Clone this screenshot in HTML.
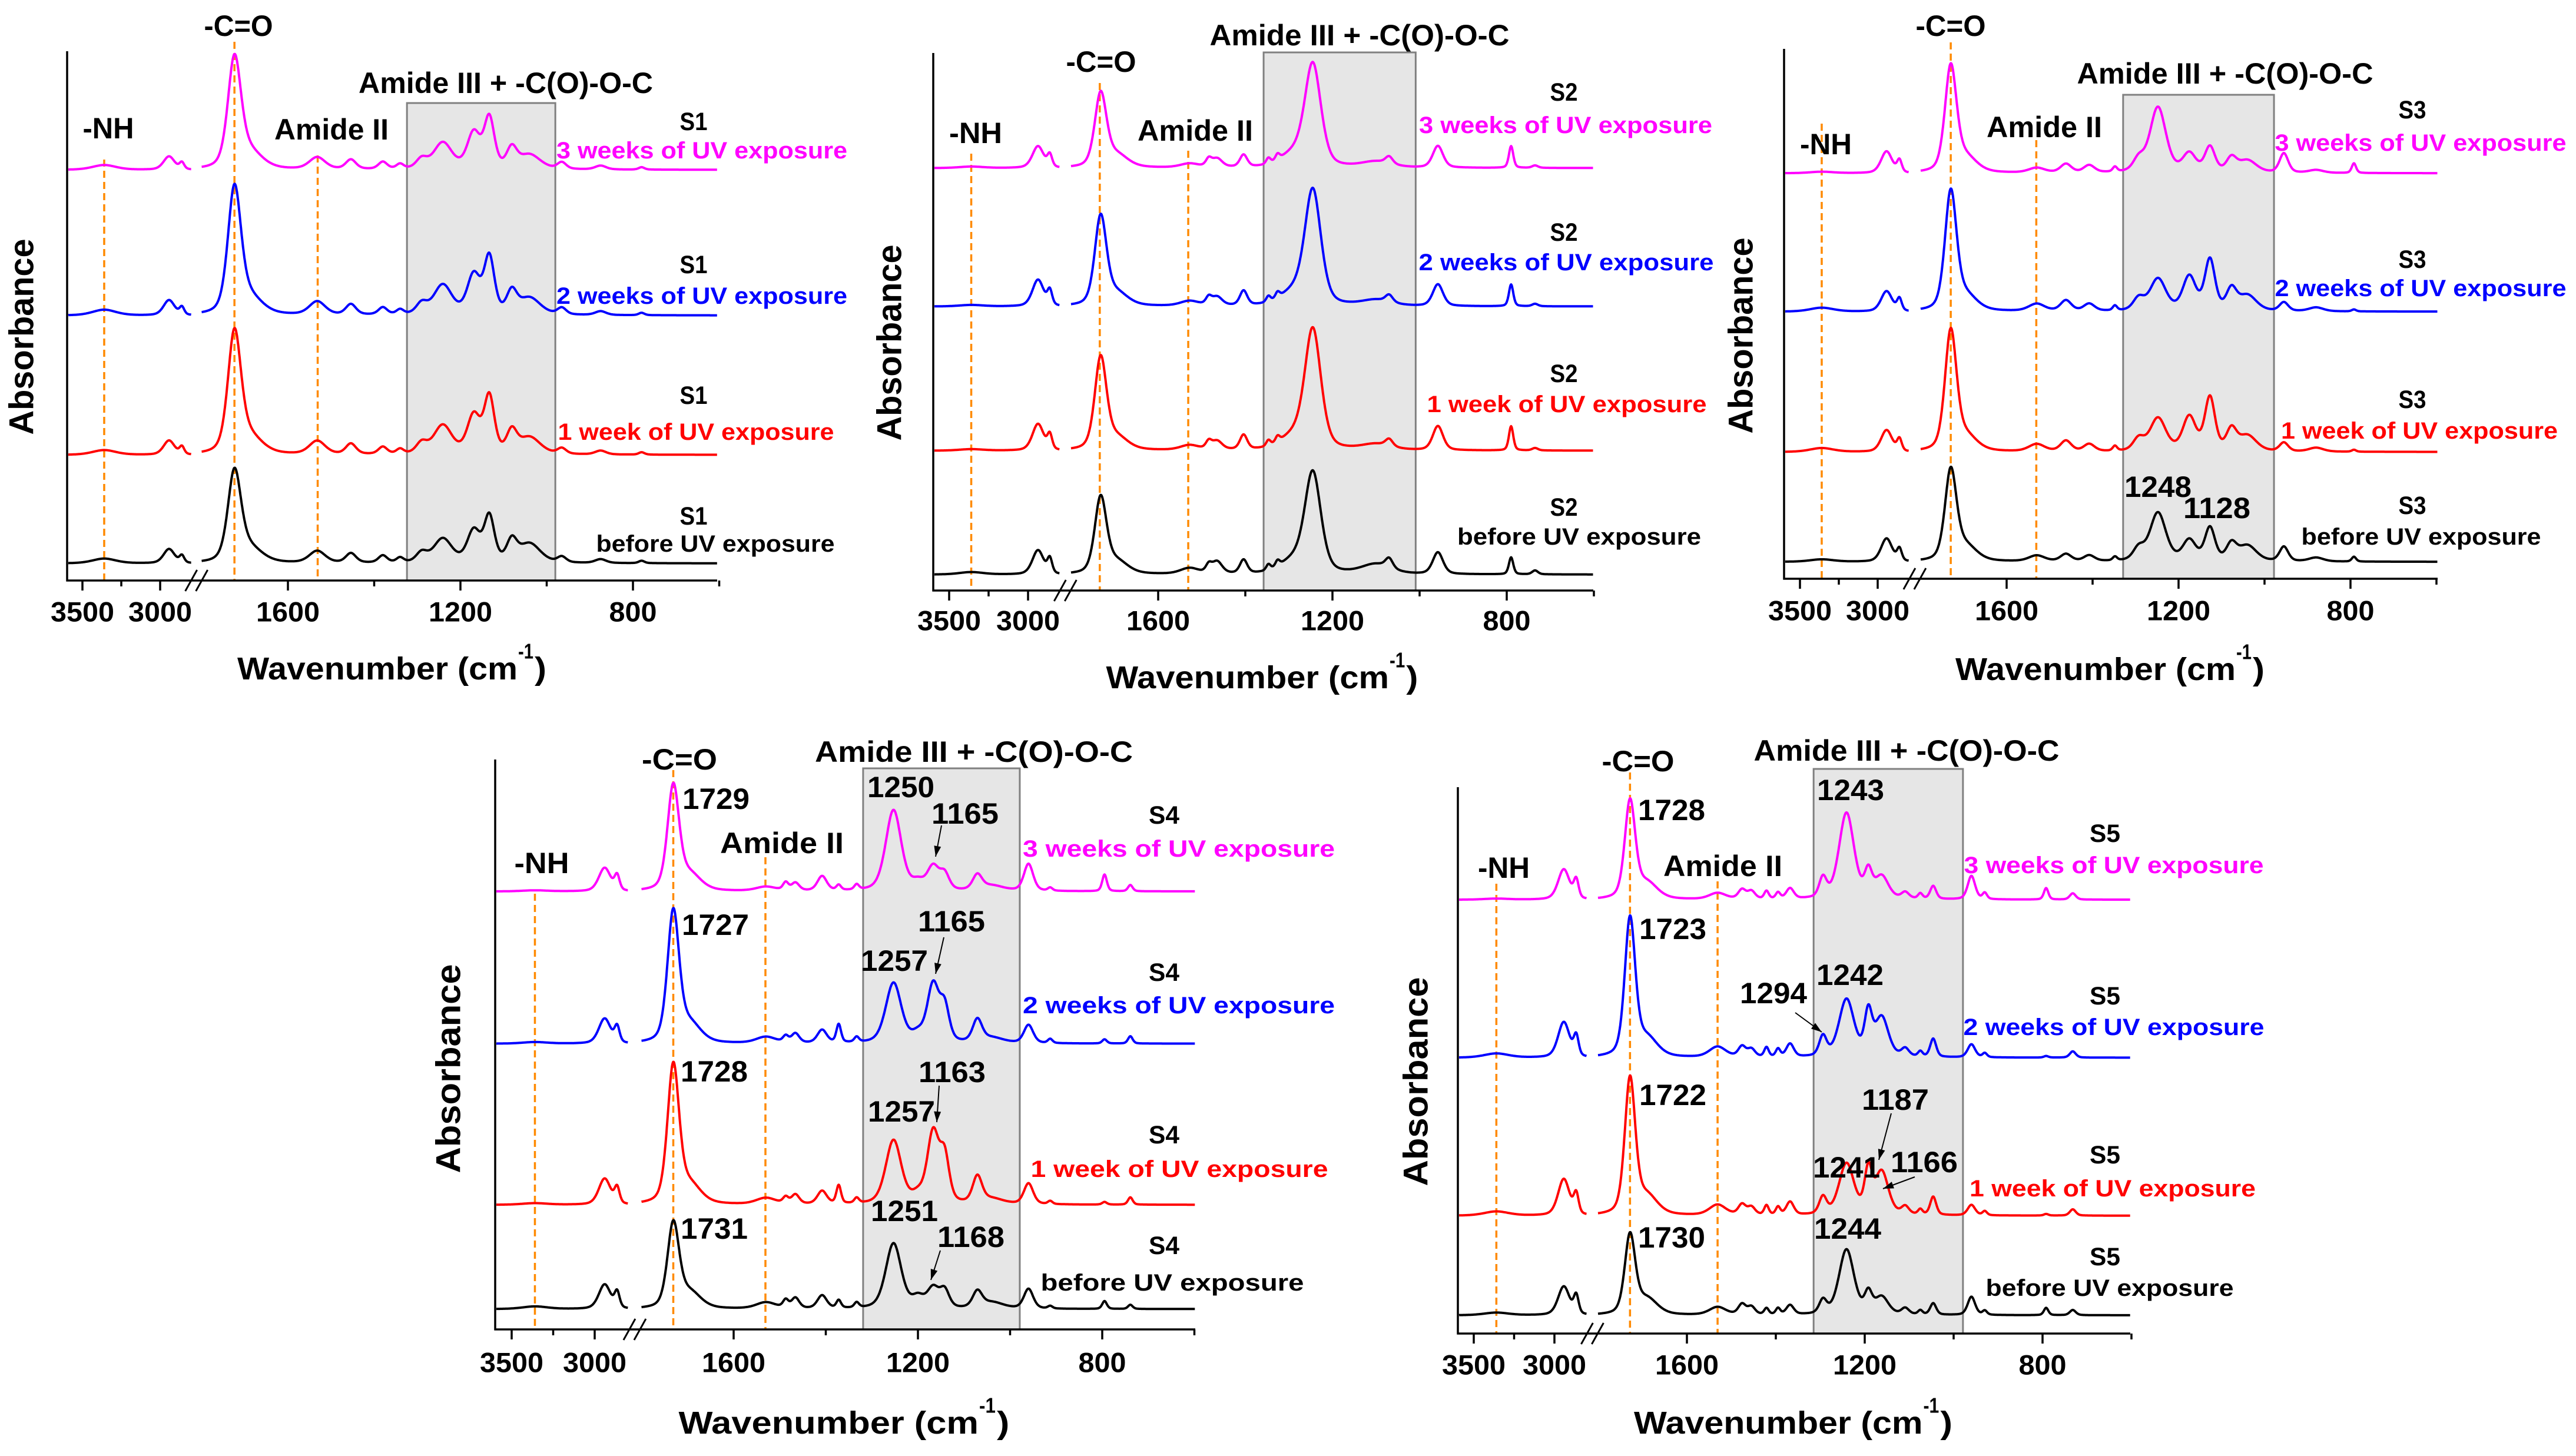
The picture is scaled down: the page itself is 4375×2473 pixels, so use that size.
<!DOCTYPE html>
<html><head><meta charset="utf-8"><style>
html,body{margin:0;padding:0;background:#fff;}
svg{display:block;}
text{font-family:"Liberation Sans",Arial,sans-serif;font-weight:bold;}
</style></head>
<body>
<svg id="chart" xmlns="http://www.w3.org/2000/svg" width="4375" height="2473" viewBox="0 0 4375 2473"></svg>
<script>
// ---------- data ----------
const tickMajor = [3500, 3000, 1600, 1200, 800];
const tickMinor = [3250, 1400, 1000, 600];
const traceNames = ['3 weeks of UV exposure', '2 weeks of UV exposure', '1 week of UV exposure', 'before UV exposure'];
const traceColors = ['#ff00ff', '#0000ff', '#ff0000', '#000000'];

// S1
const p1Centers = [3360, 2943, 2860, 1724, 1690, 1532, 1454, 1380, 1340, 1290, 1241, 1169, 1133, 1081, 1040, 965, 875, 780];
const p1Widths  = [90, 42, 18, 18, 35, 22, 14, 12, 10, 15, 25, 18, 14, 14, 30, 12, 15, 8];
const p1Mag   = [10, 28, 14, 225, 35, 25, 20, 15, 10, 20, 55, 75, 105, 40, 30, 14, 8, 5];
const p1Blue  = [12, 32, 16, 258, 35, 28, 22, 15, 10, 22, 62, 82, 118, 44, 35, 14, 8, 5];
const p1Red   = [10, 30, 16, 248, 35, 28, 22, 15, 10, 22, 60, 80, 118, 44, 35, 12, 8, 5];
const p1Black = [10, 30, 15, 185, 30, 25, 20, 15, 10, 20, 50, 66, 95, 42, 40, 12, 8, 5];
const p1Offsets = [863, 557, 264, 36];

// S2
const p2Centers = [3360, 2937, 2862, 1732, 1695, 1528, 1484, 1465, 1404, 1347, 1326, 1290, 1245, 1100, 1070, 958, 790, 735];
const p2Widths  = [90, 42, 18, 16, 30, 25, 8, 14, 10, 6, 6, 35, 22, 40, 10, 14, 6, 8];
const p2Mag   = [3, 45, 25, 150, 25, 8, 15, 18, 25, 12, 12, 25, 210, 12, 15, 45, 45, 5];
const p2Blue  = [3, 55, 30, 182, 25, 10, 15, 18, 30, 12, 12, 25, 236, 12, 15, 45, 45, 5];
const p2Red   = [3, 55, 30, 188, 25, 10, 15, 18, 30, 12, 12, 25, 246, 12, 15, 50, 50, 5];
const p2Black = [5, 50, 30, 155, 25, 12, 15, 25, 28, 12, 12, 25, 206, 20, 20, 45, 35, 8];
const p2Offsets = [873, 587, 289, 33];

// S3
const p3Centers = [3360, 2943, 2860, 1730, 1695, 1530, 1462, 1408, 1348, 1293, 1248, 1175, 1127, 1077, 1040, 955, 880, 792];
const p3Widths  = [90, 42, 18, 16, 30, 22, 15, 15, 6, 15, 22, 18, 14, 14, 25, 12, 20, 6];
const p3Mag   = [3, 45, 25, 215, 30, 10, 18, 15, 10, 25, 135, 38, 52, 28, 25, 40, 6, 20];
const p3Blue  = [8, 42, 25, 242, 30, 15, 22, 15, 10, 25, 66, 70, 105, 42, 32, 18, 8, 4];
const p3Red   = [8, 45, 25, 244, 30, 15, 22, 15, 10, 25, 68, 70, 110, 42, 32, 18, 8, 4];
const p3Black = [5, 48, 25, 184, 30, 12, 15, 12, 8, 25, 100, 42, 68, 33, 32, 30, 8, 10];
const p3Offsets = [838, 552, 262, 35];

// S4
const p4Centers = [3360, 2940, 2865, 1731, 1695, 1530, 1487, 1466, 1408, 1372, 1333, 1253, 1200, 1167, 1142, 1071, 1040, 960, 913, 795, 739];
const p4Widths  = [90, 42, 18, 15, 28, 25, 7, 10, 12, 6, 6, 20, 15, 15, 12, 12, 30, 12, 6, 6, 6];
const p4Mag   = [2, 45, 28, 198, 30, 8, 15, 15, 28, 10, 10, 155, 15, 45, 30, 28, 10, 52, 6, 32, 12];
const p4Blue  = [3, 48, 30, 248, 35, 12, 12, 18, 25, 35, 10, 115, 15, 110, 65, 42, 10, 35, 8, 8, 14];
const p4Red   = [3, 50, 30, 262, 35, 12, 12, 18, 25, 35, 10, 122, 15, 135, 85, 50, 10, 40, 6, 5, 14];
const p4Black = [5, 47, 30, 160, 30, 12, 15, 20, 25, 15, 10, 125, 20, 38, 33, 30, 12, 38, 5, 15, 8];
const p4Offsets = [840, 548, 239, 39];

// S5
const p5Centers = [3360, 2942, 2865, 1728, 1690, 1531, 1476, 1455, 1421, 1395, 1368, 1294, 1241, 1192, 1162, 1109, 1075, 1046, 960, 930, 792, 732];
const p5Widths  = [90, 42, 18, 14, 28, 22, 10, 10, 6, 6, 10, 10, 20, 10, 18, 10, 6, 8, 10, 6, 6, 8];
const p5Mag   = [2, 58, 35, 185, 30, 12, 18, 15, 15, 12, 20, 38, 165, 48, 42, 12, 10, 25, 45, 12, 22, 12];
const p5Blue  = [8, 68, 38, 262, 35, 20, 20, 15, 18, 15, 25, 38, 110, 80, 75, 15, 10, 35, 25, 8, 3, 12];
const p5Red   = [8, 70, 38, 258, 35, 20, 20, 15, 18, 15, 25, 33, 98, 80, 82, 15, 10, 35, 20, 8, 3, 12];
const p5Black = [5, 55, 35, 150, 30, 15, 20, 15, 12, 12, 18, 26, 125, 38, 33, 12, 8, 22, 35, 8, 14, 10];
const p5Offsets = [832, 529, 226, 35];

// reference-line positions (wavenumbers)
const nhWave = 3360;
const amide2Wave = 1531;
const coWaves = [1724, 1734, 1730, 1731, 1728];
const boxWaves = [[1324, 980], [1358, 1009], [1329, 978], [1319, 979], [1315, 979]];

// ---------- layout ----------
const panels = [
 {n:1, left:114, top:87, bottom:986, right:1218, x3500:140, x3000:272, x1600:489, x1200:782, k:0.8083,
  centers:p1Centers, widths:p1Widths, heights:[p1Mag,p1Blue,p1Red,p1Black], offsets:p1Offsets,
  boxTop:175, dashTop:[271,71,264], tickY:1039, titleX:666, titleY:1136, titleW:526, absX:37, absY:572, absL:333,
  coT:[405,44,117], am3T:[859,141,500], am2T:[563,220,194], nhT:[184,218,87],
  sX:1178, sY:[207,450,672,877], eX:[1192,1192,1182,1215], eY:[256,503,734,924], eW:[494,494,469,405], ann:[], arrows:[]},
 {n:2, left:1585, top:90, bottom:1003, right:2706, x3500:1612, x3000:1746, x1600:1967, x1200:2263, k:0.8219,
  centers:p2Centers, widths:p2Widths, heights:[p2Mag,p2Blue,p2Red,p2Black], offsets:p2Offsets,
  boxTop:89, dashTop:[261,141,256], tickY:1054, titleX:2144, titleY:1151, titleW:531, absX:1511, absY:582, absL:333,
  coT:[1870,105,119], am3T:[2309,60,509], am2T:[2030,222,196], nhT:[1657,226,90],
  sX:2656, sY:[157,395,635,862], eX:[2659,2660,2661,2682], eY:[213,446,687,912], eW:[498,501,475,414], ann:[], arrows:[]},
 {n:3, left:3030, top:83, bottom:983, right:4140, x3500:3057, x3000:3189, x1600:3408, x1200:3700, k:0.8219,
  centers:p3Centers, widths:p3Widths, heights:[p3Mag,p3Blue,p3Red,p3Black], offsets:p3Offsets,
  boxTop:161, dashTop:[210,72,238], tickY:1037, titleX:3584, titleY:1137, titleW:526, absX:2957, absY:570, absL:333,
  coT:[3313,44,119], am3T:[3779,125,503], am2T:[3472,216,196], nhT:[3101,245,88],
  sX:4097, sY:[187,441,679,859], eX:[4111,4111,4109,4112], eY:[243,490,732,912], eW:[495,495,470,407],
  ann:[['1248',3665,827],['1128',3765,863]], arrows:[]},
 {n:4, left:841, top:1290, bottom:2258, right:2030, x3500:869, x3000:1010, x1600:1246, x1200:1559, k:0.8856,
  centers:p4Centers, widths:p4Widths, heights:[p4Mag,p4Blue,p4Red,p4Black], offsets:p4Offsets,
  boxTop:1305, dashTop:[1518,1308,1456], tickY:2314, titleX:1434, titleY:2417, titleW:563, absX:762, absY:1815, absL:355,
  coT:[1154,1290,128], am3T:[1654,1277,540], am2T:[1328,1432,210], nhT:[920,1466,93],
  sX:1977, sY:[1385,1652,1928,2116], eX:[2002,2002,2003,1991], eY:[1442,1708,1986,2179], eW:[530,530,505,447],
  ann:[['1729',1216,1357],['1250',1530,1337],['1165',1639,1382],['1727',1215,1571],['1165',1616,1565],['1257',1519,1632],
       ['1728',1213,1820],['1163',1617,1821],['1257',1531,1888],['1731',1213,2087],['1251',1536,2057],['1168',1649,2101]],
  arrows:[[1599,1402,1589,1455],[1603,1592,1589,1654],[1595,1844,1591,1906],[1597,2124,1581,2174]]},
 {n:5, left:2476, top:1337, bottom:2265, right:3618, x3500:2503, x3000:2640, x1600:2865, x1200:3167, k:0.8856,
  centers:p5Centers, widths:p5Widths, heights:[p5Mag,p5Blue,p5Red,p5Black], offsets:p5Offsets,
  boxTop:1306, dashTop:[1501,1312,1497], tickY:2318, titleX:3046, titleY:2417, titleW:542, absX:2405, absY:1837, absL:355,
  coT:[2782,1293,123], am3T:[3238,1275,519], am2T:[2926,1471,202], nhT:[2554,1474,88],
  sX:3575, sY:[1416,1692,1962,2135], eX:[3590,3590,3588,3583], eY:[1470,1745,2019,2188], eW:[509,511,486,421],
  ann:[['1728',2839,1376],['1243',3143,1342],['1723',2841,1578],['1242',3142,1656],['1294',3012,1687],
       ['1722',2841,1860],['1187',3219,1868],['1241',3136,1983],['1166',3268,1974],['1730',2839,2102],['1244',3138,2087]],
  arrows:[[3049,1720,3094,1753],[3212,1891,3191,1970],[3252,1999,3198,2019]]}
];

const NS = 'http://www.w3.org/2000/svg';
const svg = document.getElementById('chart');
function mk(tag, attrs, parent) {
  const e = document.createElementNS(NS, tag);
  for (const a in attrs) e.setAttribute(a, attrs[a]);
  (parent || svg).appendChild(e);
  return e;
}
function xScale(p, w) {
  if (w >= 2300) return p.x3500 + (3500 - w) * (p.x3000 - p.x3500) / 500;
  return p.x1600 + (1600 - w) * (p.x1200 - p.x1600) / 400;
}
function yScale(p, v) { return p.bottom - v * p.k; }
function absorb(p, h, w, segLeft) {
  let s = 0;
  for (let i = 0; i < p.centers.length; i++) {
    const c = p.centers[i];
    if ((c >= 2300) !== segLeft) continue;
    const x = (w - c) / p.widths[i];
    s += h[i] * (0.6 * Math.exp(-0.6931 * x * x) + 0.4 / (1 + x * x));
  }
  return s;
}
function txt(g, str, x, y, size, len, color, name) {
  const t = mk('text', {x:x, y:y, 'font-size':size, fill:color, 'text-anchor':'middle', 'dominant-baseline':'central'}, g);
  if (len) { t.setAttribute('textLength', len); t.setAttribute('lengthAdjust', 'spacingAndGlyphs'); }
  t.textContent = str;
  
  
  return t;
}

panels.forEach(function (p, pi) {
  const g = mk('g', {});
  
  

  const bw = boxWaves[pi];
  const bx1 = xScale(p, bw[0]), bx2 = xScale(p, bw[1]);
  const box = mk('rect', {x:bx1, y:p.boxTop, width:bx2 - bx1, height:p.bottom - p.boxTop, fill:'#e6e6e6', stroke:'#808080', 'stroke-width':3}, g);
  
  

  const dWaves = [nhWave, coWaves[pi], amide2Wave];
  const dNames = ['nh-reference-line', 'carbonyl-reference-line', 'amide-ii-reference-line'];
  dWaves.forEach(function (w, di) {
    const x = xScale(p, w);
    const l = mk('line', {x1:x, x2:x, y1:p.dashTop[di], y2:p.bottom, stroke:'#ff8a00', 'stroke-width':3.5, 'stroke-dasharray':'12,7'}, g);
    
    
  });

  const wLeftStart = 3500 + (p.x3500 - p.left - 2) * 500 / (p.x3000 - p.x3500);
  const wRightEnd = 1600 - (p.right - p.x1600) * 400 / (p.x1200 - p.x1600);
  for (let ti = 0; ti < 4; ti++) {
    const h = p.heights[ti], off = p.offsets[ti];
    let d = '';
    let first = true;
    for (let w = wLeftStart; w >= 2800; w -= 2) {
      d += (first ? 'M' : 'L') + xScale(p, w).toFixed(1) + ',' + yScale(p, off + absorb(p, h, w, true)).toFixed(1);
      first = false;
    }
    first = true;
    for (let w = 1800; w >= wRightEnd; w -= 1) {
      d += (first ? 'M' : 'L') + xScale(p, w).toFixed(1) + ',' + yScale(p, off + absorb(p, h, w, false)).toFixed(1);
      first = false;
    }
    const path = mk('path', {d:d, fill:'none', stroke:traceColors[ti], 'stroke-width':4, 'stroke-linejoin':'round'}, g);
    
    
  }

  const ya = mk('line', {x1:p.left, x2:p.left, y1:p.top, y2:p.bottom + 1.5, stroke:'#000', 'stroke-width':3.5}, g);
  
  
  const xa = mk('line', {x1:p.left - 1.5, x2:p.right, y1:p.bottom, y2:p.bottom, stroke:'#000', 'stroke-width':3.5}, g);
  
  
  const bxm = (xScale(p, 2800) + xScale(p, 1800)) / 2;
  [-9, 9].forEach(function (dx) {
    const s = mk('line', {x1:bxm + dx - 10, y1:p.bottom + 18, x2:bxm + dx + 10, y2:p.bottom - 18, stroke:'#000', 'stroke-width':3}, g);
    
    
  });
  tickMajor.forEach(function (w) {
    const x = xScale(p, w);
    const t = mk('line', {x1:x, x2:x, y1:p.bottom, y2:p.bottom + 17, stroke:'#000', 'stroke-width':3.5}, g);
    
    
    txt(g, String(w), x, p.tickY, 47, w >= 1000 ? 108 : 81, '#000', 'x-tick-label');
  });
  tickMinor.forEach(function (w) {
    const x = xScale(p, w);
    const t = mk('line', {x1:x, x2:x, y1:p.bottom, y2:p.bottom + 10, stroke:'#000', 'stroke-width':3.5}, g);
    
    
  });

  const f = p.titleW / 526;
  const tx0 = p.titleX - 263 * f;
  txt(g, 'Wavenumber (cm', tx0 + 238 * f, p.titleY, 54, 476 * f, '#000', 'x-axis-title');
  txt(g, '-1', tx0 + 490 * f, p.titleY - 30, 36, 26 * f, '#000', 'x-axis-title-superscript');
  txt(g, ')', tx0 + 515 * f, p.titleY, 54, 20 * f, '#000', 'x-axis-title-paren');
  const ab = txt(g, 'Absorbance', p.absX, p.absY, 58, p.absL, '#000', 'y-axis-title');
  ab.setAttribute('transform', 'rotate(-90 ' + p.absX + ' ' + p.absY + ')');

  txt(g, '-C=O', p.coT[0], p.coT[1], 50, p.coT[2], '#000', 'carbonyl-band-label');
  txt(g, 'Amide III + -C(O)-O-C', p.am3T[0], p.am3T[1], 50, p.am3T[2], '#000', 'amide-iii-band-label');
  txt(g, 'Amide II', p.am2T[0], p.am2T[1], 50, p.am2T[2], '#000', 'amide-ii-band-label');
  txt(g, '-NH', p.nhT[0], p.nhT[1], 50, p.nhT[2], '#000', 'nh-band-label');

  for (let ti = 0; ti < 4; ti++) {
    txt(g, 'S' + p.n, p.sX, p.sY[ti], 43, p.n >= 4 ? 52 : 47, '#000', 'sample-label');
    txt(g, traceNames[ti], p.eX[ti], p.eY[ti], 40, p.eW[ti], traceColors[ti], 'exposure-label');
  }

  p.ann.forEach(function (a) {
    txt(g, a[0], a[1], a[2], 50, 114, '#000', 'peak-annotation');
  });
  p.arrows.forEach(function (a) {
    const ar = mk('line', {x1:a[0], y1:a[1], x2:a[2], y2:a[3], stroke:'#000', 'stroke-width':2}, g);
    
    
    const ang = Math.atan2(a[3] - a[1], a[2] - a[0]);
    const L = 18, W = 6;
    const bx = a[2] - L * Math.cos(ang), by = a[3] - L * Math.sin(ang);
    const pts = a[2] + ',' + a[3] + ' ' + (bx - W * Math.sin(ang)) + ',' + (by + W * Math.cos(ang)) + ' ' + (bx + W * Math.sin(ang)) + ',' + (by - W * Math.cos(ang));
    const head = mk('polygon', {points:pts, fill:'#000'}, g);
    
    
  });
});
</script>
</body></html>
